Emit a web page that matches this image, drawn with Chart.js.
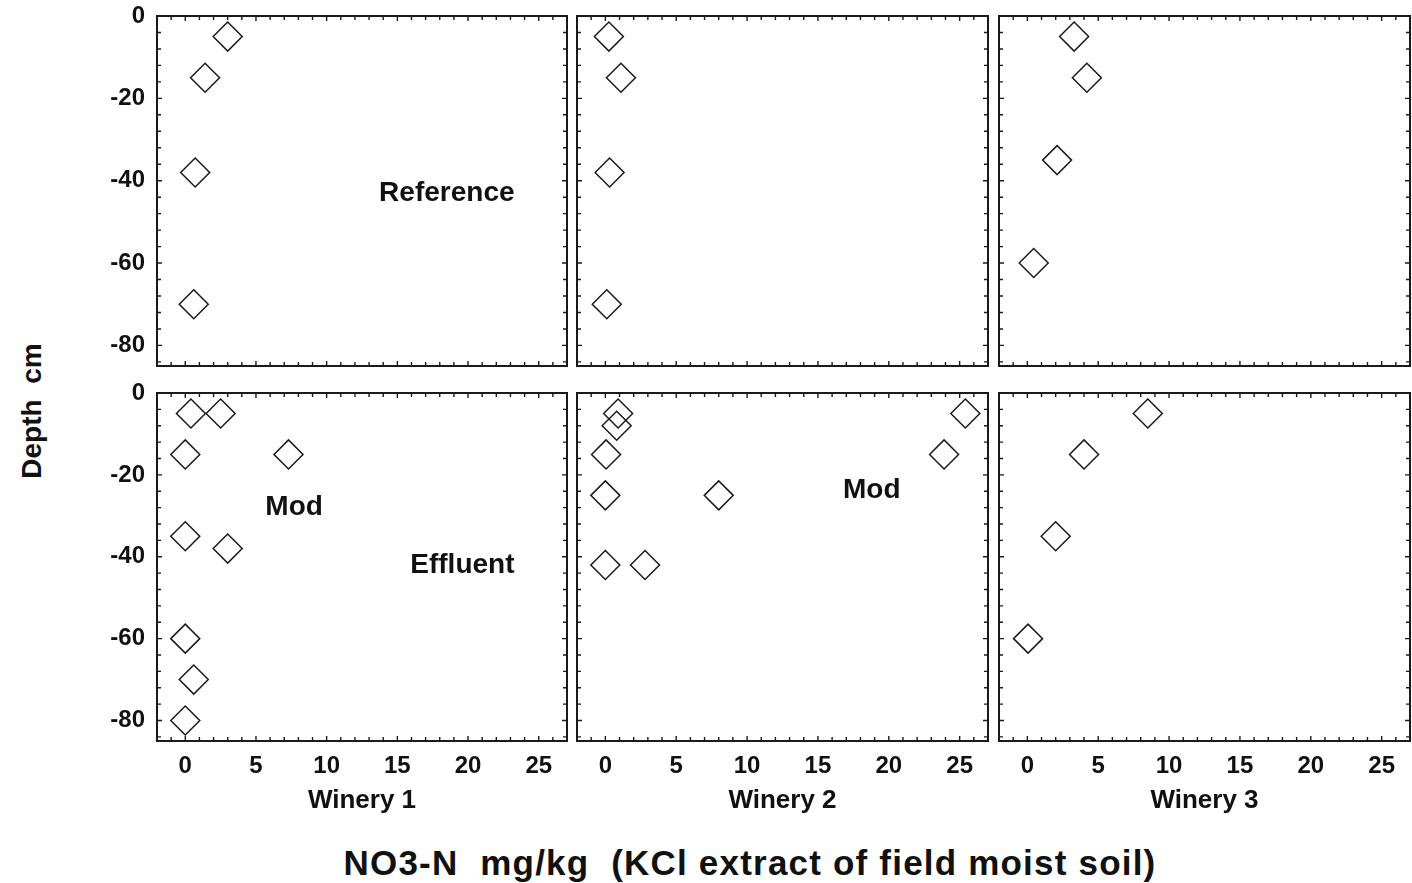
<!DOCTYPE html>
<html>
<head>
<meta charset="utf-8">
<title>Soil nitrate by depth</title>
<script src="https://cdn.jsdelivr.net/npm/chart.js@4/dist/chart.umd.min.js"></script>
<style>
  body { margin: 0; background: #fff; width: 1412px; height: 883px; position: relative; overflow: hidden;
         font-family: "Liberation Sans", Arial, sans-serif; }
  canvas { position: absolute; }
  .title { position: absolute; font-weight: bold; color: #111; white-space: pre; line-height: 1; }
  #ytitle { left: 32px; top: 411px; font-size: 28px; transform: translate(-50%, -50%) rotate(-90deg); }
  #xtitle { left: 750px; top: 862px; font-size: 35px; letter-spacing: 1.2px; transform: translate(-50%, -50%); }
</style>
</head>
<body>
<div id="ytitle" class="title">Depth  cm</div>
<div id="xtitle" class="title">NO3-N  mg/kg  (KCl extract of field moist soil)</div>
<script>
const wineries = ['Winery 1', 'Winery 2', 'Winery 3'];
const xTicks = [0, 5, 10, 15, 20, 25];
const depthTicks = [0, -20, -40, -60, -80];

// reference (unirrigated) soil, top row
const refW1Nitrate = [3.0, 1.4, 0.7, 0.6];
const refW1Depth = [-5, -15, -38, -70];
const refW2Nitrate = [0.25, 1.1, 0.3, 0.1];
const refW2Depth = [-5, -15, -38, -70];
const refW3Nitrate = [3.3, 4.2, 2.1, 0.45];
const refW3Depth = [-5, -15, -35, -60];

// effluent-irrigated soil, bottom row
const modW1Nitrate = [0.4, 2.5, 0, 7.3, 0, 3.0, 0, 0.6, 0];
const modW1Depth = [-5, -5, -15, -15, -35, -38, -60, -70, -80];
const modW2Nitrate = [0.9, 0.8, 0.05, 0, 8.0, 0, 2.8, 25.4, 23.9];
const modW2Depth = [-5, -8, -15, -25, -25, -42, -42, -5, -15];
const modW3Nitrate = [8.5, 4.0, 2.0, 0.05];
const modW3Depth = [-5, -15, -35, -60];

// panel frames in page pixels
const colLeft = [157, 577, 999];
const colRight = [567, 988, 1410];
const rowTop = [16, 393];
const rowBottom = [366, 741];
const axisLeft = 40;
const xAxisH = 75;

const ink = '#1a1a1a';
const tickFont = { family: 'Liberation Sans', size: 24, weight: 'bold' };

const panels = [
  { row: 0, col: 0, x: refW1Nitrate, y: refW1Depth, notes: [{ text: 'Reference', x: 18.5, y: -43 }] },
  { row: 0, col: 1, x: refW2Nitrate, y: refW2Depth, notes: [] },
  { row: 0, col: 2, x: refW3Nitrate, y: refW3Depth, notes: [] },
  { row: 1, col: 0, x: modW1Nitrate, y: modW1Depth,
    notes: [{ text: 'Mod', x: 7.7, y: -28 }, { text: 'Effluent', x: 19.6, y: -42 }] },
  { row: 1, col: 1, x: modW2Nitrate, y: modW2Depth, notes: [{ text: 'Mod', x: 18.8, y: -23.7 }] },
  { row: 1, col: 2, x: modW3Nitrate, y: modW3Depth, notes: [] },
];

// box round the plot area with small inward ticks on all four sides
const framePlugin = {
  id: 'frame',
  afterDraw(chart) {
    const { ctx, chartArea: a, scales } = chart;
    ctx.save();
    ctx.strokeStyle = ink;
    ctx.lineWidth = 1.4;
    ctx.beginPath();
    for (let v = -2; v <= 27; v++) {
      const px = scales.x.getPixelForValue(v);
      const len = v % 5 === 0 ? 5 : 4;
      ctx.moveTo(px, a.top); ctx.lineTo(px, a.top + len);
      ctx.moveTo(px, a.bottom); ctx.lineTo(px, a.bottom - len);
    }
    for (let v = 0; v >= -84; v -= 4) {
      const py = scales.y.getPixelForValue(v);
      const len = v % 20 === 0 ? 5 : 4;
      ctx.moveTo(a.left, py); ctx.lineTo(a.left + len, py);
      ctx.moveTo(a.right, py); ctx.lineTo(a.right - len, py);
    }
    ctx.stroke();
    ctx.lineWidth = 2;
    ctx.strokeRect(a.left, a.top, a.right - a.left, a.bottom - a.top);
    ctx.restore();
  }
};

// site labels written inside a panel
const notesPlugin = {
  id: 'notes',
  afterDatasetsDraw(chart, args, opts) {
    const { ctx, scales } = chart;
    ctx.save();
    ctx.fillStyle = '#111';
    ctx.font = 'bold 28px "Liberation Sans", Arial, sans-serif';
    ctx.textAlign = 'center';
    ctx.textBaseline = 'middle';
    (opts.items || []).forEach(n => {
      ctx.fillText(n.text, scales.x.getPixelForValue(n.x), scales.y.getPixelForValue(n.y));
    });
    ctx.restore();
  }
};

// keep label overhang from shrinking the plot area
function noOverhang(s) {
  s.paddingLeft = 0;
  s.paddingRight = 0;
  s.paddingTop = 0;
  s.paddingBottom = 0;
}

function makePanel(p) {
  const left = p.col === 0 ? axisLeft : colLeft[p.col] - 6;
  const right = Math.min(colRight[p.col] + 4, 1412);
  const top = rowTop[p.row] - 16;
  const bottom = p.row === 0 ? rowBottom[0] + 6 : rowBottom[1] + xAxisH;

  const canvas = document.createElement('canvas');
  canvas.width = right - left;
  canvas.height = bottom - top;
  canvas.style.left = left + 'px';
  canvas.style.top = top + 'px';
  canvas.style.width = (right - left) + 'px';
  canvas.style.height = (bottom - top) + 'px';
  document.body.appendChild(canvas);

  const points = p.x.map((v, i) => ({ x: v, y: p.y[i] }));

  new Chart(canvas, {
    type: 'scatter',
    data: {
      datasets: [{
        data: points,
        pointStyle: 'rectRot',
        pointRadius: 14.5,
        pointBorderWidth: 1.5,
        pointBorderColor: ink,
        pointBackgroundColor: 'rgba(0,0,0,0)',
      }],
    },
    plugins: [framePlugin, notesPlugin],
    options: {
      responsive: false,
      animation: false,
      events: [],
      layout: {
        autoPadding: false,
        padding: {
          left: p.col === 0 ? 0 : colLeft[p.col] - left,
          right: right - colRight[p.col],
          top: 16,
          bottom: p.row === 0 ? 6 : 0,
        },
      },
      plugins: {
        legend: { display: false },
        tooltip: { enabled: false },
        notes: { items: p.notes },
      },
      scales: {
        x: {
          type: 'linear',
          min: -2,
          max: 27,
          afterBuildTicks: s => { s.ticks = xTicks.map(v => ({ value: v })); },
          afterFit: s => { s.height = p.row === 1 ? xAxisH : 0; noOverhang(s); },
          grid: { display: false, drawTicks: false, tickLength: 0 },
          border: { display: false },
          ticks: { display: p.row === 1, font: tickFont, color: '#111', padding: 11, maxRotation: 0, autoSkip: false },
          title: {
            display: p.row === 1,
            text: wineries[p.col],
            font: { family: 'Liberation Sans', size: 26, weight: 'bold' },
            color: '#111',
            padding: 0,
          },
        },
        y: {
          type: 'linear',
          min: -85,
          max: 0,
          afterBuildTicks: s => { s.ticks = depthTicks.map(v => ({ value: v })); },
          afterFit: s => { s.width = p.col === 0 ? colLeft[0] - axisLeft : 0; noOverhang(s); },
          grid: { display: false, drawTicks: false, tickLength: 0 },
          border: { display: false },
          ticks: { display: p.col === 0, font: tickFont, color: '#111', padding: 12, autoSkip: false },
        },
      },
    },
  });
}

panels.forEach(makePanel);
</script>
</body>
</html>
